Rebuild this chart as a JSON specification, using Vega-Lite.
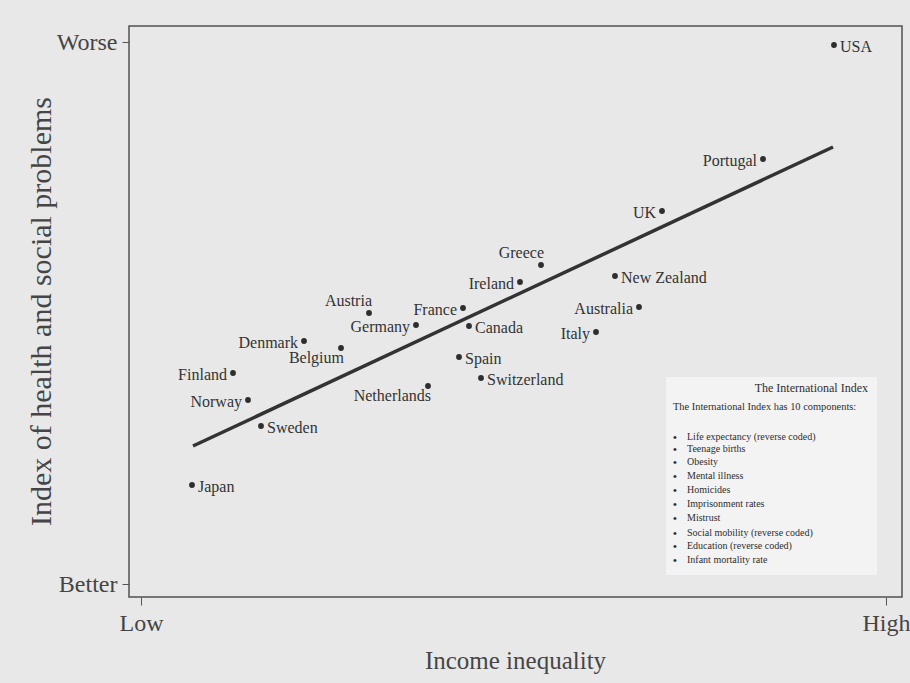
{
  "$schema": "https://vega.github.io/schema/vega-lite/v6.json",
  "width": 773,
  "height": 571,
  "autosize": "none",
  "padding": {"left": 129, "top": 26, "right": 8, "bottom": 86},
  "background": "#e8e8e8",
  "config": {
    "view": {"stroke": "#505050", "strokeWidth": 1.5},
    "font": "Liberation Serif",
    "text": {"font": "Liberation Serif"}
  },
  "datasets": {
    "countries": [
      {"country": "USA", "x": 705, "y": 552},
      {"country": "Portugal", "x": 634, "y": 438},
      {"country": "UK", "x": 533, "y": 386},
      {"country": "Greece", "x": 412, "y": 332},
      {"country": "Ireland", "x": 391, "y": 315},
      {"country": "New Zealand", "x": 486, "y": 321},
      {"country": "Australia", "x": 510, "y": 290},
      {"country": "Italy", "x": 467, "y": 265},
      {"country": "France", "x": 334, "y": 289},
      {"country": "Canada", "x": 340, "y": 271},
      {"country": "Spain", "x": 330, "y": 240},
      {"country": "Switzerland", "x": 352, "y": 219},
      {"country": "Austria", "x": 240, "y": 284},
      {"country": "Germany", "x": 287, "y": 272},
      {"country": "Denmark", "x": 175, "y": 256},
      {"country": "Belgium", "x": 212, "y": 249},
      {"country": "Netherlands", "x": 299, "y": 211},
      {"country": "Finland", "x": 104, "y": 224},
      {"country": "Norway", "x": 119, "y": 197},
      {"country": "Sweden", "x": 132, "y": 171},
      {"country": "Japan", "x": 63, "y": 112}
    ],
    "trend": [
      {"x": 64, "y": 151},
      {"x": 704, "y": 450}
    ],
    "box": [
      {"x": 537, "x2": 748, "y": 22, "y2": 220}
    ],
    "insetTitle": [
      {"x": 739, "y": 205, "label": "The International Index"}
    ],
    "insetNote": [
      {"x": 544, "y": 187, "label": "The International Index has 10 components:"}
    ],
    "components": [
      {"x": 558, "y": 157, "label": "Life expectancy (reverse coded)"},
      {"x": 558, "y": 145, "label": "Teenage births"},
      {"x": 558, "y": 132, "label": "Obesity"},
      {"x": 558, "y": 118, "label": "Mental illness"},
      {"x": 558, "y": 104, "label": "Homicides"},
      {"x": 558, "y": 90, "label": "Imprisonment rates"},
      {"x": 558, "y": 76, "label": "Mistrust"},
      {"x": 558, "y": 61, "label": "Social mobility (reverse coded)"},
      {"x": 558, "y": 48, "label": "Education (reverse coded)"},
      {"x": 558, "y": 34, "label": "Infant mortality rate"}
    ]
  },
  "encoding": {
    "x": {
      "field": "x",
      "type": "quantitative",
      "scale": {"domain": [0, 773], "nice": false, "zero": false},
      "axis": {
        "values": [12, 757],
        "labelExpr": "datum.value < 400 ? 'Low' : 'High'",
        "labelFont": "Liberation Serif",
        "labelFontSize": 24,
        "labelColor": "#454545",
        "labelPadding": 6,
        "labelFlush": false,
        "labelOverlap": false,
        "tickSize": 8,
        "tickColor": "#555555",
        "tickWidth": 1,
        "domain": false,
        "grid": false,
        "title": "Income inequality",
        "titleFont": "Liberation Serif",
        "titleFontSize": 25,
        "titleFontWeight": "normal",
        "titleColor": "#454545",
        "titleX": 386,
        "titleY": 71,
        "titleAlign": "center",
        "titleBaseline": "alphabetic"
      }
    },
    "y": {
      "field": "y",
      "type": "quantitative",
      "scale": {"domain": [0, 571], "nice": false, "zero": false},
      "axis": {
        "values": [13, 555],
        "labelExpr": "datum.value > 300 ? 'Worse' : 'Better'",
        "labelFont": "Liberation Serif",
        "labelFontSize": 24,
        "labelColor": "#454545",
        "labelPadding": 5,
        "labelFlush": false,
        "labelOverlap": false,
        "tickSize": 7,
        "tickColor": "#555555",
        "tickWidth": 1,
        "domain": false,
        "grid": false,
        "title": "Index of health and social problems",
        "titleFont": "Liberation Serif",
        "titleFontSize": 30,
        "titleFontWeight": "normal",
        "titleColor": "#454545",
        "titleAngle": -90,
        "titleX": -79,
        "titleY": 285,
        "titleAlign": "center",
        "titleBaseline": "alphabetic"
      }
    }
  },
  "layer": [
    {
      "data": {"name": "box"},
      "mark": {"type": "rect", "fill": "#f3f3f3", "stroke": null},
      "encoding": {
        "x2": {"field": "x2"},
        "y2": {"field": "y2"}
      }
    },
    {
      "data": {"name": "trend"},
      "mark": {"type": "line", "color": "#333333", "strokeWidth": 3.5},
      "encoding": {}
    },
    {
      "data": {"name": "countries"},
      "mark": {"type": "point", "filled": true, "color": "#2e2e2e", "size": 34, "opacity": 1}
    },
    {
      "data": {"name": "countries"},
      "transform": [{"filter": {"field": "country", "oneOf": ["USA", "Sweden", "Japan", "Canada", "Spain", "Switzerland", "New Zealand"]}}],
      "mark": {"type": "text", "align": "left", "baseline": "alphabetic", "dx": 6, "dy": 6.5, "fontSize": 16, "color": "#333333"},
      "encoding": {"text": {"field": "country"}}
    },
    {
      "data": {"name": "countries"},
      "transform": [{"filter": {"field": "country", "oneOf": ["Portugal", "UK", "Ireland", "France", "Germany", "Denmark", "Finland", "Norway", "Australia", "Italy"]}}],
      "mark": {"type": "text", "align": "right", "baseline": "alphabetic", "dx": -6, "dy": 6.5, "fontSize": 16, "color": "#333333"},
      "encoding": {"text": {"field": "country"}}
    },
    {
      "data": {"name": "countries"},
      "transform": [{"filter": {"field": "country", "oneOf": ["Austria", "Greece"]}}],
      "mark": {"type": "text", "align": "right", "baseline": "alphabetic", "dx": 3, "dy": -7, "fontSize": 16, "color": "#333333"},
      "encoding": {"text": {"field": "country"}}
    },
    {
      "data": {"name": "countries"},
      "transform": [{"filter": {"field": "country", "oneOf": ["Belgium", "Netherlands"]}}],
      "mark": {"type": "text", "align": "right", "baseline": "alphabetic", "dx": 3, "dy": 15, "fontSize": 16, "color": "#333333"},
      "encoding": {"text": {"field": "country"}}
    },
    {
      "data": {"name": "insetTitle"},
      "mark": {"type": "text", "align": "right", "baseline": "alphabetic", "fontSize": 12, "color": "#2e2e2e"},
      "encoding": {"text": {"field": "label"}}
    },
    {
      "data": {"name": "insetNote"},
      "mark": {"type": "text", "align": "left", "baseline": "alphabetic", "fontSize": 10.4, "color": "#2e2e2e"},
      "encoding": {"text": {"field": "label"}}
    },
    {
      "data": {"name": "components"},
      "mark": {"type": "text", "align": "left", "baseline": "alphabetic", "dx": -14, "dy": 0.5, "fontSize": 11, "fontWeight": "bold", "color": "#2e2e2e", "text": "•"}
    },
    {
      "data": {"name": "components"},
      "mark": {"type": "text", "align": "left", "baseline": "alphabetic", "fontSize": 10, "color": "#2e2e2e"},
      "encoding": {"text": {"field": "label"}}
    }
  ]
}
